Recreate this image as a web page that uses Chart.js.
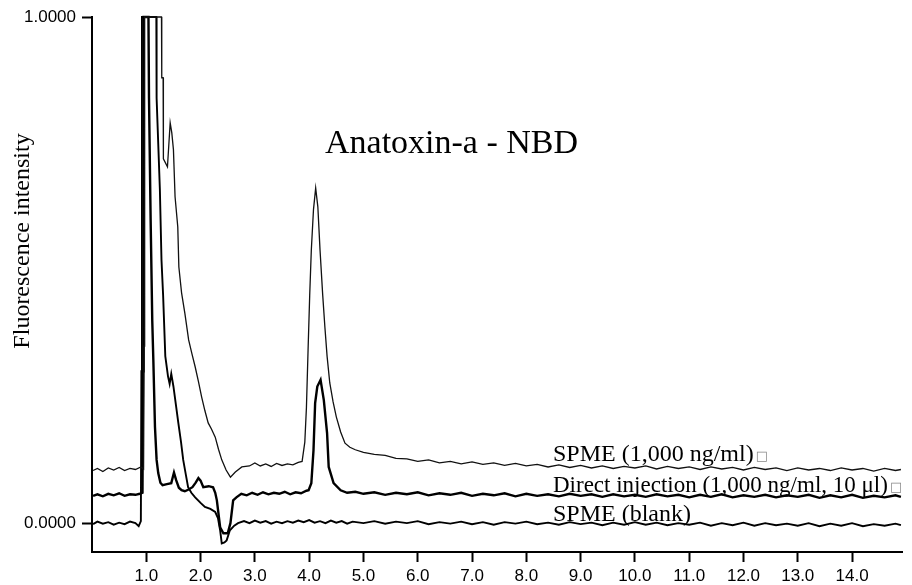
<!DOCTYPE html>
<html>
<head>
<meta charset="utf-8">
<script src="https://cdn.jsdelivr.net/npm/chart.js@4.4.1/dist/chart.umd.min.js"></script>
<style>
  html, body { margin: 0; padding: 0; background: #fff; }
  canvas { display: block; }
</style>
</head>
<body>
<canvas id="c" width="912" height="585"></canvas>
<script>
// ---- data (retention time in min, signal in relative units) ----
const xTickValues = [1,2,3,4,5,6,7,8,9,10,11,12,13,14];
const yTickValues = [0, 1];

const spmeTime = [0.02,0.1,0.2,0.3,0.4,0.5,0.6,0.7,0.8,0.9,
 0.95,0.96,0.97,1.28,1.285,1.31,1.315,1.39,1.44,1.47,
 1.5,1.53,1.58,1.6,1.65,1.71,1.78,1.84,1.9,1.96,
 2.02,2.08,2.14,2.2,2.27,2.33,2.39,2.47,2.55,2.64,
 2.76,2.9,3.0,3.1,3.2,3.3,3.4,3.5,3.6,3.7,
 3.8,3.87,3.92,3.95,3.98,4.01,4.04,4.08,4.12,4.16,
 4.2,4.25,4.29,4.33,4.38,4.44,4.5,4.58,4.66,4.75,
 4.85,5.0,5.2,5.4,5.6,5.8,6.0,6.2,6.4,6.6,
 6.8,7.0,7.2,7.4,7.6,7.8,8.0,8.2,8.4,8.6,
 8.8,9.0,9.2,9.4,9.6,9.8,10.0,10.2,10.4,10.6,
 10.8,11.0,11.2,11.4,11.6,11.8,12.0,12.2,12.4,12.6,
 12.8,13.0,13.2,13.4,13.6,13.8,14.0,14.2,14.4,14.6,
 14.8,14.9];
const spmeSignal = [0.104,0.108,0.102,0.109,0.105,0.110,0.104,0.108,0.106,0.111,
 0.107,0.35,1.0,1.0,0.88,0.88,0.72,0.704,0.791,0.771,
 0.738,0.645,0.585,0.506,0.455,0.415,0.362,0.335,0.309,0.28,
 0.249,0.222,0.198,0.186,0.17,0.146,0.125,0.105,0.091,0.101,
 0.111,0.113,0.119,0.113,0.117,0.112,0.118,0.114,0.117,0.115,
 0.12,0.122,0.16,0.229,0.342,0.45,0.54,0.62,0.662,0.625,
 0.54,0.45,0.387,0.33,0.277,0.24,0.21,0.18,0.158,0.15,
 0.145,0.14,0.136,0.134,0.128,0.127,0.122,0.125,0.119,0.122,
 0.117,0.121,0.116,0.119,0.114,0.118,0.113,0.116,0.111,0.115,
 0.110,0.114,0.109,0.113,0.108,0.112,0.109,0.113,0.107,0.112,
 0.108,0.111,0.106,0.111,0.107,0.110,0.105,0.110,0.106,0.109,
 0.104,0.109,0.105,0.108,0.104,0.109,0.105,0.108,0.103,0.108,
 0.104,0.106];

const directTime = [0.02,0.1,0.2,0.3,0.4,0.5,0.6,0.7,0.8,0.88,
 0.93,0.94,0.95,1.04,1.05,1.08,1.11,1.13,1.16,1.19,
 1.22,1.26,1.3,1.38,1.46,1.51,1.55,1.6,1.65,1.71,
 1.77,1.85,1.91,1.96,2.0,2.05,2.15,2.23,2.27,2.3,
 2.36,2.42,2.5,2.55,2.6,2.66,2.75,2.85,2.95,3.05,
 3.15,3.25,3.35,3.45,3.55,3.65,3.75,3.85,3.95,3.99,
 4.04,4.08,4.11,4.15,4.21,4.27,4.33,4.36,4.45,4.58,
 4.7,4.85,5.0,5.2,5.4,5.6,5.8,6.0,6.2,6.4,
 6.6,6.8,7.0,7.2,7.4,7.6,7.8,8.0,8.2,8.4,
 8.6,8.8,9.0,9.2,9.4,9.6,9.8,10.0,10.2,10.4,
 10.6,10.8,11.0,11.2,11.4,11.6,11.8,12.0,12.2,12.4,
 12.6,12.8,13.0,13.2,13.4,13.6,13.8,14.0,14.2,14.4,
 14.6,14.8,14.9];
const directSignal = [0.054,0.057,0.053,0.058,0.055,0.059,0.054,0.057,0.056,0.058,
 0.06,0.3,1.0,1.0,0.84,0.6,0.4,0.322,0.19,0.125,
 0.099,0.08,0.075,0.077,0.079,0.10,0.085,0.07,0.065,0.063,
 0.066,0.071,0.08,0.089,0.084,0.071,0.073,0.071,0.06,0.045,
 -0.008,-0.02,-0.02,0.0,0.045,0.051,0.058,0.055,0.06,0.056,
 0.061,0.057,0.06,0.058,0.062,0.057,0.061,0.059,0.064,0.065,
 0.079,0.144,0.237,0.27,0.283,0.243,0.178,0.111,0.079,0.065,
 0.06,0.062,0.058,0.061,0.056,0.06,0.057,0.061,0.055,0.059,
 0.056,0.06,0.054,0.058,0.055,0.059,0.053,0.058,0.054,0.057,
 0.053,0.058,0.054,0.057,0.052,0.057,0.053,0.056,0.052,0.057,
 0.053,0.056,0.051,0.056,0.052,0.057,0.051,0.055,0.052,0.056,
 0.051,0.055,0.052,0.056,0.05,0.055,0.051,0.056,0.05,0.054,
 0.051,0.055,0.052];

const blankTime = [0.02,0.1,0.2,0.3,0.4,0.5,0.6,0.7,0.8,0.86,
 0.9,0.91,0.92,1.185,1.19,1.25,1.28,1.31,1.35,1.4,
 1.43,1.46,1.5,1.55,1.59,1.64,1.68,1.73,1.77,1.83,
 1.9,2.0,2.08,2.18,2.27,2.32,2.36,2.39,2.44,2.48,
 2.54,2.62,2.69,2.8,2.9,3.0,3.1,3.2,3.3,3.4,
 3.5,3.6,3.7,3.8,3.9,4.0,4.1,4.2,4.3,4.4,
 4.5,4.6,4.7,4.8,5.0,5.2,5.4,5.6,5.8,6.0,
 6.2,6.4,6.6,6.8,7.0,7.2,7.4,7.6,7.8,8.0,
 8.2,8.4,8.6,8.8,9.0,9.2,9.4,9.6,9.8,10.0,
 10.2,10.4,10.6,10.8,11.0,11.2,11.4,11.6,11.8,12.0,
 12.2,12.4,12.6,12.8,13.0,13.2,13.4,13.6,13.8,14.0,
 14.2,14.4,14.6,14.8,14.9];
const blankSignal = [-0.002,0.003,-0.001,0.002,-0.003,0.001,-0.002,0.003,0.0,-0.006,
 0.004,0.3,1.0,1.0,0.84,0.66,0.52,0.45,0.33,0.29,
 0.275,0.295,0.27,0.23,0.198,0.16,0.125,0.095,0.071,0.06,
 0.051,0.04,0.032,0.028,0.022,0.01,-0.014,-0.04,-0.038,-0.034,
 -0.014,-0.005,0.0,0.004,0.0,0.005,0.001,0.004,-0.001,0.003,
 0.0,0.004,0.001,0.005,0.002,0.006,0.001,0.004,0.0,0.005,
 0.001,0.004,-0.001,0.003,0.0,0.004,-0.001,0.003,0.0,0.004,
 -0.002,0.002,-0.001,0.003,-0.002,0.002,-0.003,0.002,-0.001,0.003,
 -0.002,0.001,-0.003,0.002,-0.002,0.001,-0.004,0.001,-0.003,0.002,
 -0.003,0.001,-0.004,0.0,-0.003,0.001,-0.005,0.0,-0.004,0.001,
 -0.005,0.0,-0.004,-0.001,-0.005,0.0,-0.006,-0.001,-0.005,0.0,
 -0.006,-0.002,-0.005,-0.001,-0.004];

const seriesNames = ['SPME (1,000 ng/ml)', 'Direct injection (1,000 ng/ml, 10 μl)', 'SPME (blank)'];
const chartTitle = 'Anatoxin-a - NBD';
const yAxisTitle = 'Fluorescence intensity';

// ---- chart ----
function pts(t, v) { return t.map((x, i) => ({ x: x, y: v[i] })); }

const TICK_FONT = { family: '"Liberation Sans Narrow", "Liberation Sans", sans-serif', size: 17 };

const textPlugin = {
  id: 'chromTexts',
  afterDraw(chart) {
    const ctx = chart.ctx;
    ctx.save();
    ctx.fillStyle = '#000';
    // y axis title
    ctx.save();
    ctx.translate(23, 241);
    ctx.rotate(-Math.PI / 2);
    ctx.font = '24px "Liberation Serif", serif';
    ctx.textAlign = 'center';
    ctx.textBaseline = 'middle';
    ctx.fillText(yAxisTitle, 0, 0);
    ctx.restore();
    // title
    ctx.font = '34px "Liberation Serif", serif';
    ctx.textAlign = 'left';
    ctx.textBaseline = 'alphabetic';
    ctx.fillText(chartTitle, 325, 153);
    // series labels
    const baselines = [461, 492, 521];
    const sizes = [24, 23, 24];
    const boxes = [true, true, false];
    seriesNames.forEach((name, i) => {
      ctx.font = sizes[i] + 'px "Liberation Serif", serif';
      ctx.fillStyle = '#000';
      ctx.fillText(name, 553, baselines[i]);
      if (boxes[i]) {
        const w = ctx.measureText(name).width;
        ctx.font = '13px "DejaVu Sans", sans-serif';
        ctx.fillStyle = '#888';
        ctx.fillText('\u25A1', 553 + w + 2, baselines[i] - 1);
      }
    });
    ctx.restore();
  }
};

new Chart(document.getElementById('c'), {
  type: 'line',
  data: {
    datasets: [
      { label: seriesNames[0], data: pts(spmeTime, spmeSignal), borderColor: '#111', borderWidth: 1.3 },
      { label: seriesNames[1], data: pts(directTime, directSignal), borderColor: '#000', borderWidth: 2.4 },
      { label: seriesNames[2], data: pts(blankTime, blankSignal), borderColor: '#000', borderWidth: 1.9 }
    ]
  },
  options: {
    responsive: false,
    animation: false,
    devicePixelRatio: 1,
    layout: { padding: { top: 17, right: 10, left: 0, bottom: 0 } },
    elements: { point: { radius: 0 }, line: { tension: 0 } },
    datasets: { line: { clip: 6 } },
    plugins: { legend: { display: false }, tooltip: { enabled: false }, title: { display: false } },
    scales: {
      x: {
        type: 'linear',
        min: 0,
        max: 14.92,
        afterBuildTicks: (s) => { s.ticks = xTickValues.map(v => ({ value: v })); },
        afterFit: (s) => { s.height = 33; },
        ticks: { autoSkip: false, maxRotation: 0, color: '#000', font: TICK_FONT, padding: 4,
                 callback: (v) => Number(v).toFixed(1) },
        grid: { drawOnChartArea: false, drawTicks: true, tickLength: 10, tickWidth: 2, tickColor: '#000' },
        border: { display: true, color: '#000', width: 2 }
      },
      y: {
        type: 'linear',
        min: -0.057,
        max: 1.0,
        afterBuildTicks: (s) => { s.ticks = yTickValues.map(v => ({ value: v })); },
        afterFit: (s) => { s.width = 92; },
        ticks: { color: '#000', font: TICK_FONT, padding: 6,
                 callback: (v) => Number(v).toFixed(4) },
        grid: { drawOnChartArea: false, drawTicks: true, tickLength: 10, tickWidth: 2, tickColor: '#000' },
        border: { display: true, color: '#000', width: 2 }
      }
    }
  },
  plugins: [textPlugin]
});
</script>
</body>
</html>
